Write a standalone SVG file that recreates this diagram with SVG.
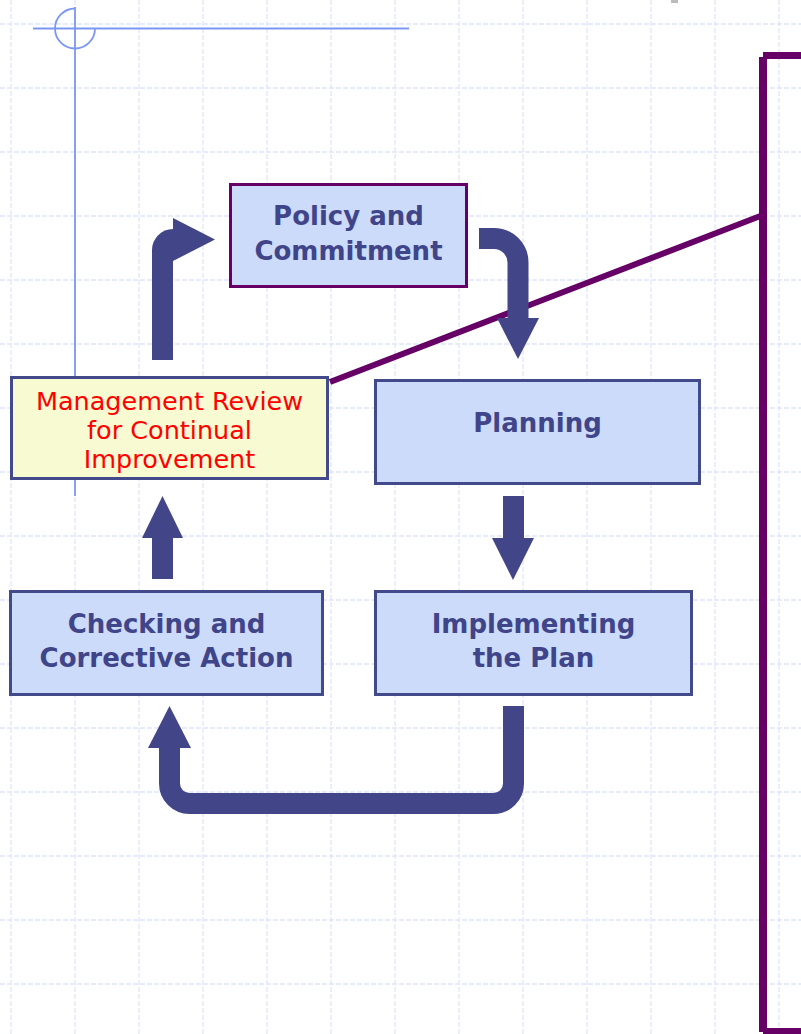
<svg xmlns="http://www.w3.org/2000/svg" width="801" height="1034" viewBox="0 0 801 1034">
<style>
.grid line{stroke:#e0e6fc;stroke-width:1.3;stroke-dasharray:5 2}
.cross{stroke:#7b97f4;stroke-width:1.8;fill:none}
.box{fill:#cddbfb;stroke:#434a8c;stroke-width:3}
.t{font-family:"DejaVu Sans",Verdana,sans-serif;font-weight:bold;font-size:26px;fill:#40458a;text-anchor:middle}
.r{font-family:"DejaVu Sans",Verdana,sans-serif;font-size:25.5px;fill:#ff0000;text-anchor:middle}
.shaft{fill:none;stroke:#424689;stroke-width:21}
.head{fill:#424689}
</style>
<rect width="801" height="1034" fill="#ffffff"/>
<g class="grid">
<line x1="11" y1="0" x2="11" y2="1034"/><line x1="75" y1="0" x2="75" y2="1034"/><line x1="139" y1="0" x2="139" y2="1034"/><line x1="203" y1="0" x2="203" y2="1034"/><line x1="267" y1="0" x2="267" y2="1034"/><line x1="331" y1="0" x2="331" y2="1034"/><line x1="395" y1="0" x2="395" y2="1034"/><line x1="459" y1="0" x2="459" y2="1034"/><line x1="523" y1="0" x2="523" y2="1034"/><line x1="587" y1="0" x2="587" y2="1034"/><line x1="651" y1="0" x2="651" y2="1034"/><line x1="715" y1="0" x2="715" y2="1034"/><line x1="779" y1="0" x2="779" y2="1034"/>
<line x1="0" y1="24" x2="801" y2="24"/><line x1="0" y1="88" x2="801" y2="88"/><line x1="0" y1="152" x2="801" y2="152"/><line x1="0" y1="216" x2="801" y2="216"/><line x1="0" y1="280" x2="801" y2="280"/><line x1="0" y1="344" x2="801" y2="344"/><line x1="0" y1="408" x2="801" y2="408"/><line x1="0" y1="472" x2="801" y2="472"/><line x1="0" y1="536" x2="801" y2="536"/><line x1="0" y1="600" x2="801" y2="600"/><line x1="0" y1="664" x2="801" y2="664"/><line x1="0" y1="728" x2="801" y2="728"/><line x1="0" y1="792" x2="801" y2="792"/><line x1="0" y1="856" x2="801" y2="856"/><line x1="0" y1="920" x2="801" y2="920"/><line x1="0" y1="984" x2="801" y2="984"/>
</g>
<rect x="671" y="0" width="7" height="3" fill="#bbbbbb"/>
<g id="crosshair" class="cross">
<line x1="33" y1="28.5" x2="409" y2="28.5"/>
<line x1="75" y1="7" x2="75" y2="496"/>
<path d="M75,8.5 A20,20 0 1 0 95,28.5"/>
</g>
<g id="bracket" fill="none" stroke="#660066">
<line x1="330" y1="382" x2="763" y2="215" stroke-width="6"/>
<path d="M763,1032 V57" stroke-width="8"/>
<line x1="763" y1="55.5" x2="801" y2="55.5" stroke-width="7"/>
<line x1="763" y1="1031" x2="801" y2="1031" stroke-width="6"/>
</g>
<g id="policy">
<rect class="box" x="230.5" y="184.5" width="236" height="102" style="stroke:#660066"/>
<text class="t" x="348.5" y="225">Policy and</text>
<text class="t" x="348.5" y="260">Commitment</text>
</g>
<g id="management-review">
<rect class="box" x="11.5" y="377.5" width="316" height="101" style="fill:#f8fad2"/>
<text class="r" x="169.5" y="410">Management Review</text>
<text class="r" x="169.5" y="439">for Continual</text>
<text class="r" x="169.5" y="468">Improvement</text>
</g>
<g id="planning">
<rect class="box" x="375.5" y="380.5" width="324" height="103"/>
<text class="t" x="537.5" y="432">Planning</text>
</g>
<g id="checking">
<rect class="box" x="10.5" y="591.5" width="312" height="103"/>
<text class="t" x="166.5" y="633">Checking and</text>
<text class="t" x="166.5" y="667">Corrective Action</text>
</g>
<g id="implementing">
<rect class="box" x="375.5" y="591.5" width="316" height="103"/>
<text class="t" x="533.5" y="633">Implementing</text>
<text class="t" x="533.5" y="667">the Plan</text>
</g>
<g id="connectors">
<path class="shaft" d="M162.5,360 V250 A10.5,10.5 0 0 1 173,239.5"/>
<polygon class="head" points="173,218 215,239.5 173,261"/>
<path class="shaft" d="M479,238.5 H494 A24,24 0 0 1 518,262.5 V319"/>
<polygon class="head" points="497,318 539,318 518,359"/>
<rect class="head" x="503" y="496" width="21" height="43"/>
<polygon class="head" points="492,538 534,538 513,580"/>
<rect class="head" x="152" y="537" width="21" height="42"/>
<polygon class="head" points="142,538 183,538 162.5,496"/>
<path class="shaft" d="M513.5,706 V783.5 A20,20 0 0 1 493.5,803.5 H189.5 A20,20 0 0 1 169.5,783.5 V747"/>
<polygon class="head" points="148,748 191,748 169.5,706"/>
</g>
</svg>
